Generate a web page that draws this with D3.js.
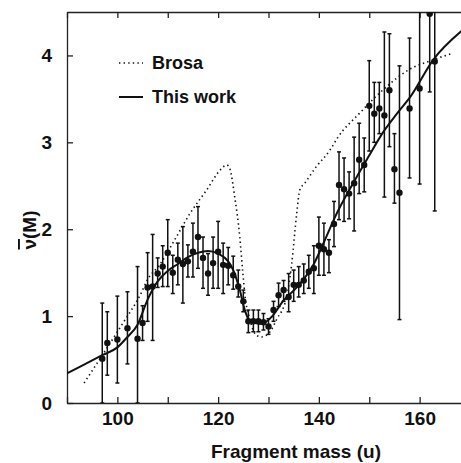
<!DOCTYPE html>
<html>
<head>
<meta charset="utf-8">
<script src="https://cdn.jsdelivr.net/npm/d3@7"></script>
<style>
  body { margin: 0; background: #fff; }
  svg { display: block; }
  text { font-family: "Liberation Sans", Arial, sans-serif; font-weight: bold; fill: #111; }
</style>
</head>
<body>
<div id="chart"></div>
<script>
// measured points: fragment mass (u), nu-bar, error bar low / high
const mass = [97, 98, 100, 102, 104, 105, 106, 107, 108, 109, 110, 111, 112, 113, 114, 115, 116, 117, 118, 119,
  120, 121, 122, 123, 124, 125, 126, 127, 128, 129, 130, 131, 132, 133, 134, 135, 136, 137, 138, 139,
  140, 141, 142, 143, 144, 145, 146, 147, 148, 149, 150, 151, 152, 153, 154, 155, 156, 158, 160, 162, 163];
const nu = [0.51, 0.69, 0.73, 0.86, 0.74, 0.92, 1.33, 1.34, 1.49, 1.57, 1.73, 1.50, 1.65, 1.60, 1.63, 1.74, 1.91, 1.67, 1.49, 1.61,
  1.74, 1.59, 1.58, 1.47, 1.34, 1.17, 0.94, 0.94, 0.94, 0.93, 0.88, 1.07, 1.24, 1.30, 1.22, 1.36, 1.36, 1.41, 1.51, 1.55,
  1.81, 1.77, 1.73, 2.06, 2.51, 2.46, 2.41, 2.53, 2.80, 2.74, 3.42, 3.33, 3.39, 3.31, 3.60, 2.69, 2.42, 3.39, 3.62, 4.48, 3.93];
const errLow = [0, 0.32, 0.23, 0.45, 0, 0.72, 0.94, 0.72, 1.33, 1.34, 1.34, 1.26, 1.36, 1.15, 1.45, 1.45, 1.55, 1.32, 1.24, 1.32,
  1.32, 1.26, 1.36, 1.31, 1.22, 1.05, 0.81, 0.82, 0.82, 0.84, 0.79, 0.94, 1.11, 1.17, 1.05, 1.17, 1.22, 1.26, 1.32, 1.26,
  1.47, 1.47, 1.50, 1.80, 2.11, 2.09, 2.12, 1.98, 2.41, 2.43, 2.90, 3.00, 3.10, 2.37, 2.95, 2.30, 0.96, 2.59, 2.52, 3.58, 2.21];
const errHigh = [1.15, 1.05, 1.23, 1.28, 1.57, 1.12, 1.73, 1.94, 1.67, 1.81, 2.11, 1.70, 1.84, 2.03, 1.82, 2.07, 2.26, 1.91, 1.72, 1.91,
  2.09, 1.84, 1.79, 1.69, 1.53, 1.30, 1.07, 1.07, 1.07, 1.03, 0.97, 1.17, 1.38, 1.41, 1.49, 1.53, 1.57, 1.60, 1.70, 1.81,
  2.14, 2.07, 1.88, 2.32, 2.89, 2.82, 2.66, 3.06, 3.22, 3.05, 3.94, 3.69, 3.69, 4.27, 4.25, 3.10, 3.88, 4.20, 4.60, 4.60, 4.60];

// "This work" curve
const workMass = [90, 93, 97, 100, 102, 104, 106, 108, 110, 112, 114, 116, 118, 120, 122, 123, 124.3, 125.3, 126.3, 128.6,
  130.6, 133, 135.6, 139, 141, 143.2, 146.8, 149.8, 152.8, 155.5, 158.1, 162.7, 168.3];
const workNu = [0.34, 0.43, 0.55, 0.64, 0.76, 0.90, 1.19, 1.40, 1.52, 1.60, 1.68, 1.73, 1.75, 1.72, 1.63, 1.53, 1.30, 1.07, 0.94, 0.91,
  0.99, 1.18, 1.33, 1.60, 1.85, 2.14, 2.53, 2.83, 3.12, 3.33, 3.52, 3.95, 4.28];

// Brosa curve
const brosaMass = [93.4, 97, 101, 104.5, 106, 108.5, 111.4, 114.4, 117.7, 120.4, 121.7, 122.3, 123.3, 124.3, 124.9, 125.4, 126, 127.6,
  128.6, 130.3, 131.6, 133.6, 134.6, 135.6, 136.2, 137.2, 139.5, 142.2, 143.8, 148, 152.1, 157.7, 162.7, 166.3];
const brosaNu = [0.23, 0.55, 0.91, 1.24, 1.42, 1.60, 1.88, 2.18, 2.45, 2.68, 2.74, 2.70, 2.37, 1.91, 1.50, 1.20, 1.03, 0.78,
  0.76, 0.82, 0.96, 1.22, 1.60, 2.18, 2.45, 2.53, 2.72, 2.91, 3.06, 3.33, 3.57, 3.83, 3.95, 4.02];

const xTicks = [90, 100, 110, 120, 130, 140, 150, 160, 170];
const yTicks = [0, 1, 2, 3, 4];

const width = 461, height = 463;
const plot = { left: 67, right: 470, top: 12, bottom: 403 };

const svg = d3.select("#chart").append("svg")
  .attr("width", width)
  .attr("height", height);

const x = d3.scaleLinear().domain([90, 170]).range([plot.left, plot.right]);
const y = d3.scaleLinear().domain([0, 4.5]).range([plot.bottom, plot.top]);

svg.append("clipPath").attr("id", "plot-clip")
  .append("rect")
  .attr("x", plot.left).attr("y", plot.top)
  .attr("width", plot.right - plot.left).attr("height", plot.bottom - plot.top);

// axes, ticks pointing inward
const axisBottomG = svg.append("g")
  .attr("transform", `translate(0,${plot.bottom})`)
  .call(d3.axisBottom(x).tickValues(xTicks).tickSizeInner(-6).tickSizeOuter(0).tickPadding(9)
    .tickFormat(d => d % 20 === 0 && d > 90 && d < 170 ? d : ""));
const axisTopG = svg.append("g")
  .attr("transform", `translate(0,${plot.top})`)
  .call(d3.axisTop(x).tickValues(xTicks).tickSizeInner(-6).tickSizeOuter(0).tickFormat(""));
const axisLeftG = svg.append("g")
  .attr("transform", `translate(${plot.left},0)`)
  .call(d3.axisLeft(y).tickValues(yTicks).tickSizeInner(-6).tickSizeOuter(0).tickPadding(15)
    .tickFormat(d3.format("d")));

[axisBottomG, axisTopG, axisLeftG].forEach(a => {
  a.selectAll("path, line").attr("stroke", "#222").attr("stroke-width", 1.3);
  a.selectAll("text").style("font-size", "19px").attr("fill", "#111");
});

svg.append("text")
  .attr("x", 296).attr("y", 458)
  .attr("text-anchor", "middle")
  .style("font-size", "19px")
  .text("Fragment mass (u)");

const yl = svg.append("text")
  .attr("transform", "translate(36,230) rotate(-90)")
  .attr("text-anchor", "middle")
  .style("font-size", "19px");
yl.append("tspan").style("text-decoration", "overline").text("ν");
yl.append("tspan").text("(M)");

const g = svg.append("g").attr("clip-path", "url(#plot-clip)");

const line = d3.line().curve(d3.curveMonotoneX).x(d => x(d[0])).y(d => y(d[1]));

g.append("path")
  .attr("d", line(brosaMass.map((m, i) => [m, brosaNu[i]])))
  .attr("fill", "none")
  .attr("stroke", "#111")
  .attr("stroke-width", 1.6)
  .attr("stroke-dasharray", "1.4 3.2");

g.append("path")
  .attr("d", line(workMass.map((m, i) => [m, workNu[i]])))
  .attr("fill", "none")
  .attr("stroke", "#111")
  .attr("stroke-width", 2);

const pts = mass.map((m, i) => ({ m, v: nu[i], lo: errLow[i], hi: errHigh[i] }));

const bars = g.selectAll(".err").data(pts).enter().append("g").attr("class", "err")
  .attr("stroke", "#111").attr("stroke-width", 1.5);
bars.append("line")
  .attr("x1", d => x(d.m)).attr("x2", d => x(d.m))
  .attr("y1", d => y(d.lo)).attr("y2", d => y(d.hi));
bars.append("line")
  .attr("x1", d => x(d.m) - 2).attr("x2", d => x(d.m) + 2)
  .attr("y1", d => y(d.hi)).attr("y2", d => y(d.hi));
bars.append("line")
  .attr("x1", d => x(d.m) - 2).attr("x2", d => x(d.m) + 2)
  .attr("y1", d => y(d.lo)).attr("y2", d => y(d.lo));

g.selectAll(".pt").data(pts).enter().append("circle")
  .attr("class", "pt")
  .attr("cx", d => x(d.m)).attr("cy", d => y(d.v))
  .attr("r", 3.2)
  .attr("fill", "#111");

// legend
const legend = [{ label: "Brosa", dash: "1.4 3.2", w: 1.6 }, { label: "This work", dash: null, w: 2 }];
legend.forEach((d, i) => {
  const ly = 63 + i * 34;
  svg.append("line")
    .attr("x1", 119).attr("x2", 143).attr("y1", ly).attr("y2", ly)
    .attr("stroke", "#111").attr("stroke-width", d.w)
    .attr("stroke-dasharray", d.dash);
  svg.append("text")
    .attr("x", 152).attr("y", ly + 6)
    .style("font-size", "18px")
    .text(d.label);
});
</script>
</body>
</html>
